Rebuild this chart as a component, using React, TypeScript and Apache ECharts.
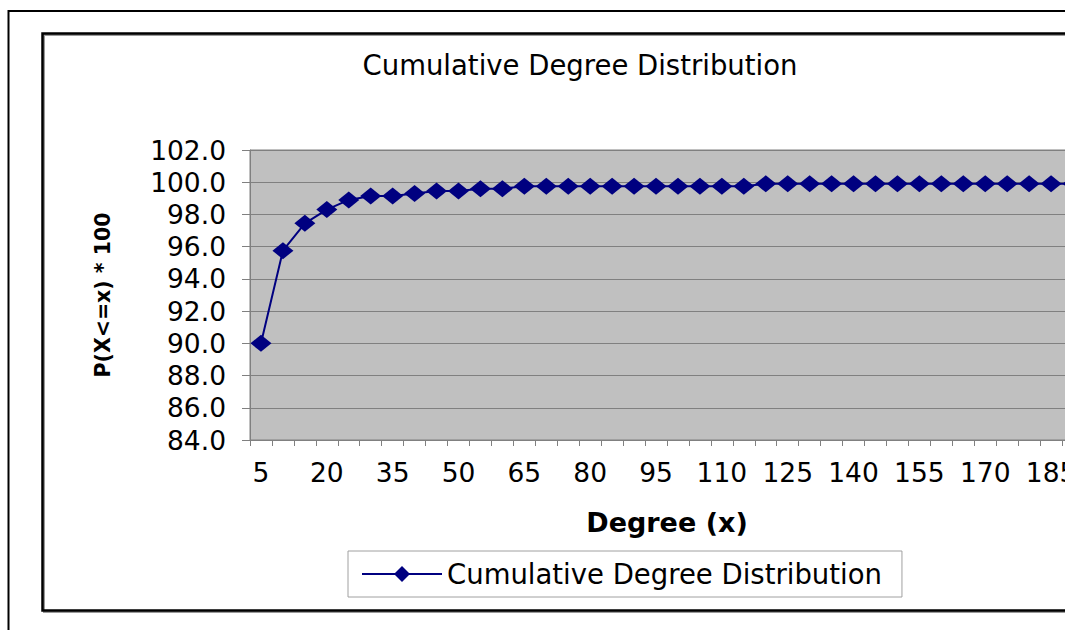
import React, { useEffect, useRef } from "react";
import * as echarts from "echarts";

const titleText = "Cumulative Degree Distribution";
const seriesName = "Cumulative Degree Distribution";
const yAxisName = "P(X<=x) * 100";
const xAxisName = "Degree (x)";

const degrees: string[] = [
  "5", "10", "15", "20", "25", "30", "35", "40", "45", "50",
  "55", "60", "65", "70", "75", "80", "85", "90", "95", "100",
  "105", "110", "115", "120", "125", "130", "135", "140", "145", "150",
  "155", "160", "165", "170", "175", "180", "185", "190",
];

const cumulative: number[] = [
  90.0, 95.75, 97.45, 98.3, 98.9, 99.15, 99.15, 99.3, 99.45, 99.45,
  99.6, 99.6, 99.75, 99.75, 99.75, 99.75, 99.75, 99.75, 99.75, 99.75,
  99.75, 99.75, 99.75, 99.9, 99.9, 99.9, 99.9, 99.9, 99.9, 99.9,
  99.9, 99.9, 99.9, 99.9, 99.9, 99.9, 99.9, 99.9,
];

const yMin = 84;
const yMax = 102;
const yStep = 2;

const FONT = "DejaVu Sans";

export default function App() {
  const ref = useRef<HTMLDivElement>(null);

  useEffect(() => {
    if (!ref.current) return;
    const chart = echarts.init(ref.current, null, { renderer: "svg" });
    chart.setOption({
      animation: false,
      backgroundColor: "#ffffff",
      textStyle: { fontFamily: FONT },
      title: {
        text: titleText,
        left: "center",
        top: 51,
        padding: 0,
        textStyle: { fontFamily: FONT, fontSize: 27.5, fontWeight: "normal", color: "#000" },
      },
      graphic: [
        {
          type: "rect",
          shape: { x: 8.5, y: 11, width: 1200, height: 640 },
          style: { fill: "none", stroke: "#000", lineWidth: 2 },
          silent: true,
        },
        {
          type: "rect",
          shape: { x: 44, y: 35, width: 1076, height: 577 },
          style: { fill: "none", stroke: "#9a9a9a", lineWidth: 2 },
          silent: true,
        },
        {
          type: "rect",
          shape: { x: 42.5, y: 33.5, width: 1076, height: 577 },
          style: { fill: "none", stroke: "#000", lineWidth: 2.5 },
          silent: true,
        },
      ],
      legend: {
        show: true,
        left: 348,
        top: 551,
        orient: "horizontal",
        padding: [9, 20, 9, 13],
        borderColor: "#a0a0a0",
        borderWidth: 1,
        backgroundColor: "#ffffff",
        itemWidth: 80,
        itemHeight: 20,
        itemGap: 14,
        textStyle: { fontFamily: FONT, fontSize: 27.5, color: "#000" },
        data: [seriesName],
      },
      grid: {
        left: 250,
        top: 150,
        width: 834,
        height: 290,
        show: true,
        backgroundColor: "#c0c0c0",
        borderColor: "#808080",
        borderWidth: 1,
        containLabel: false,
      },
      xAxis: {
        type: "category",
        data: degrees,
        boundaryGap: true,
        name: xAxisName,
        nameLocation: "middle",
        nameGap: 69,
        nameTextStyle: { fontFamily: FONT, fontSize: 27, fontWeight: "bold", color: "#000" },
        axisLine: { show: true, lineStyle: { color: "#808080", width: 1 } },
        axisTick: { show: true, interval: 0, length: 6, lineStyle: { color: "#808080" } },
        axisLabel: {
          interval: 2,
          margin: 19,
          fontFamily: FONT,
          fontSize: 26.5,
          color: "#000",
        },
        splitLine: { show: false },
      },
      yAxis: {
        type: "value",
        min: yMin,
        max: yMax,
        interval: yStep,
        name: yAxisName,
        nameLocation: "middle",
        nameRotate: 90,
        nameGap: 137,
        nameTextStyle: { fontFamily: FONT, fontSize: 20.5, fontWeight: "bold", color: "#000" },
        axisLine: { show: true, lineStyle: { color: "#808080", width: 1 } },
        axisTick: { show: true, length: 8, lineStyle: { color: "#808080" } },
        axisLabel: {
          margin: 24,
          fontFamily: FONT,
          fontSize: 26.5,
          color: "#000",
          formatter: (v: number) => v.toFixed(1),
        },
        splitLine: { show: true, lineStyle: { color: "#808080", width: 1 } },
      },
      series: [
        {
          name: seriesName,
          type: "line",
          data: cumulative,
          symbol: "diamond",
          showAllSymbol: true,
          symbolSize: [21, 17],
          lineStyle: { color: "#000080", width: 2 },
          itemStyle: { color: "#000080" },
        },
      ],
    });
    return () => chart.dispose();
  }, []);

  return (
    <div
      style={{
        position: "absolute",
        left: 0,
        top: 0,
        width: 1065,
        height: 630,
        overflow: "hidden",
        background: "#fff",
      }}
    >
      <div ref={ref} style={{ width: 1160, height: 630 }} />
    </div>
  );
}
